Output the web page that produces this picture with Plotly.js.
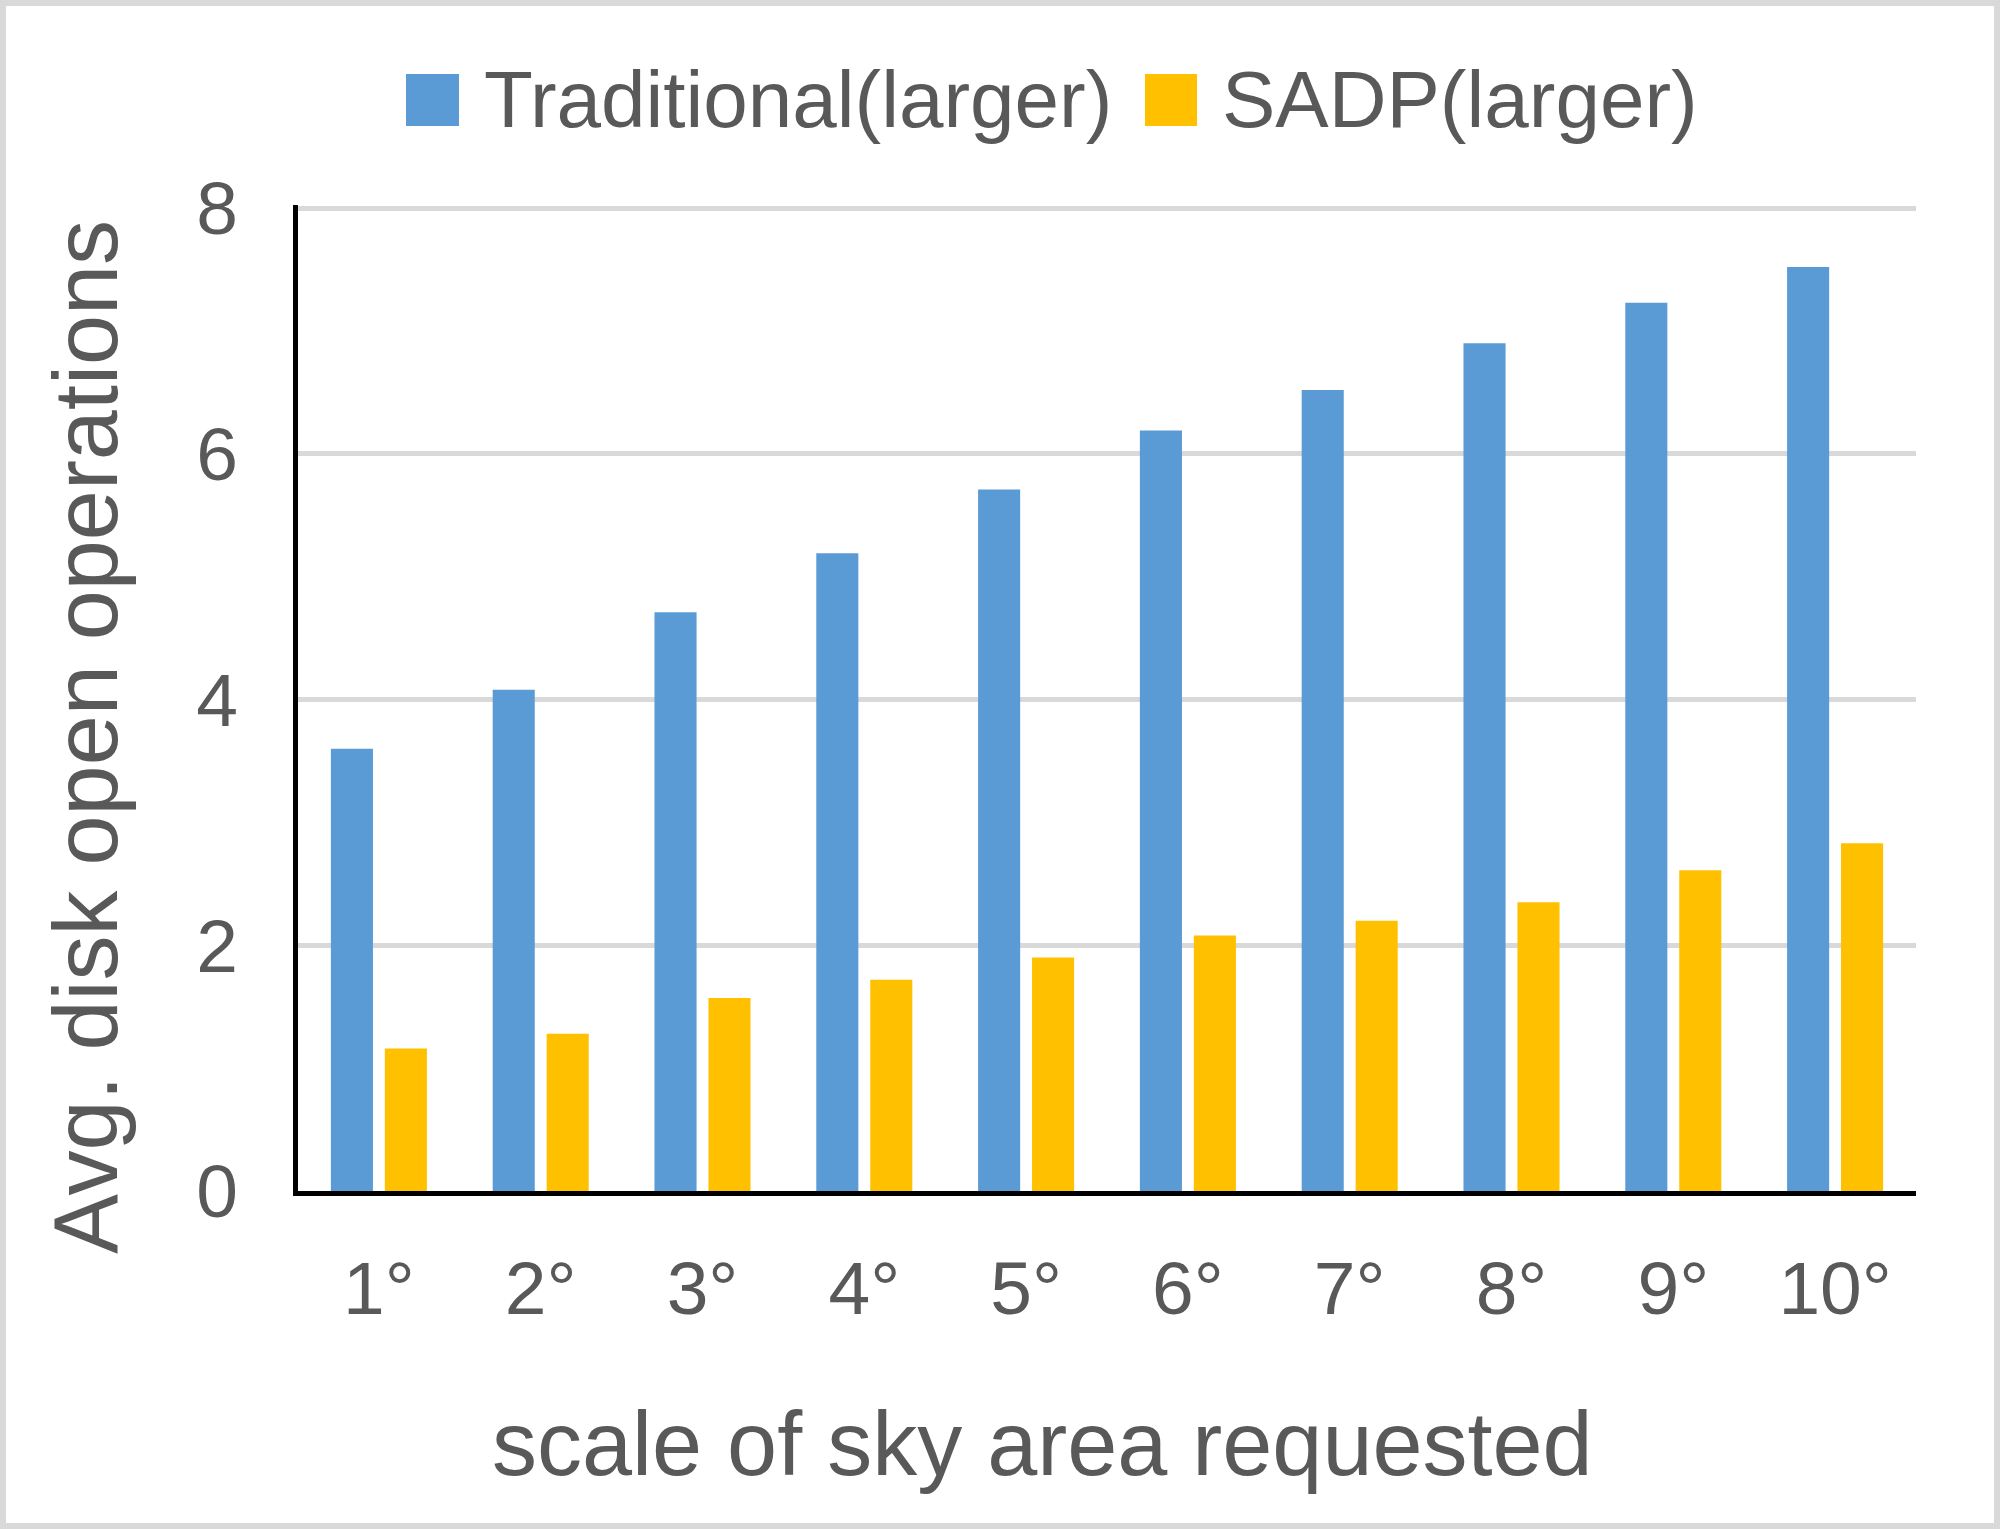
<!DOCTYPE html>
<html>
<head>
<meta charset="utf-8">
<script src="https://cdn.plot.ly/plotly-3.0.1.min.js"></script>
<style>
  body { margin: 0; background: #fff; }
  #wrap { position: relative; width: 2000px; height: 1529px; }
  #chart { width: 2000px; height: 1529px; }
  #frame { position: absolute; left: 0; top: 0; width: 2000px; height: 1529px;
           box-sizing: border-box; border: 6px solid #d9d9d9; pointer-events: none; }
</style>
</head>
<body>
<div id="wrap">
  <div id="chart"></div>
  <div id="frame"></div>
</div>
<script>
// data
var scales = ["1°", "2°", "3°", "4°", "5°", "6°", "7°", "8°", "9°", "10°"];
var traditional = [3.60, 4.08, 4.71, 5.19, 5.71, 6.19, 6.52, 6.90, 7.23, 7.52];
var sadp = [1.16, 1.28, 1.57, 1.72, 1.90, 2.08, 2.20, 2.35, 2.61, 2.83];
var seriesNames = ["Traditional(larger)", "SADP(larger)"];
var yTicks = [0, 2, 4, 6, 8];

var blue = "#5B9BD5";
var gold = "#FFC000";
var grey = "#595959";
var font = "Liberation Sans, Arial, Helvetica, sans-serif";

var W = 2000, H = 1529;
var m = { l: 298, r: 84, t: 205, b: 338 };

// pixel -> paper helpers for the legend and titles
function px(x) { return (x - m.l) / (W - m.l - m.r); }
function py(y) { return (H - m.b - y) / (H - m.t - m.b); }

var data = [
    {
        x: scales,
        y: traditional,
        name: seriesNames[0],
        type: 'bar',
        marker: { color: blue },
        hoverinfo: 'y'
    },
    {
        x: scales,
        y: sadp,
        name: seriesNames[1],
        type: 'bar',
        marker: { color: gold },
        hoverinfo: 'y'
    }
];

// hand-made legend so the swatches can be as large as in the original
var shapes = [
    { type: 'rect', xref: 'paper', yref: 'paper', x0: px(406), x1: px(459), y0: py(126), y1: py(74),
      fillcolor: blue, line: { width: 0 } },
    { type: 'rect', xref: 'paper', yref: 'paper', x0: px(1145), x1: px(1197), y0: py(126), y1: py(74),
      fillcolor: gold, line: { width: 0 } }
];

var annotations = [
    { text: seriesNames[0], xref: 'paper', yref: 'paper', x: px(482), y: py(100),
      xanchor: 'left', yanchor: 'middle', showarrow: false,
      font: { family: font, size: 80, color: grey } },
    { text: seriesNames[1], xref: 'paper', yref: 'paper', x: px(1220), y: py(100),
      xanchor: 'left', yanchor: 'middle', showarrow: false,
      font: { family: font, size: 80, color: grey } },
    { text: "scale of sky area requested", xref: 'paper', yref: 'paper', x: px(1042), y: py(1444),
      xanchor: 'center', yanchor: 'middle', showarrow: false,
      font: { family: font, size: 90, color: grey } },
    { text: "Avg. disk open operations", xref: 'paper', yref: 'paper', x: px(86), y: py(737),
      xanchor: 'center', yanchor: 'middle', textangle: -90, showarrow: false,
      font: { family: font, size: 90, color: grey } }
];

var layout = {
    width: W,
    height: H,
    margin: m,
    paper_bgcolor: '#ffffff',
    plot_bgcolor: '#ffffff',
    showlegend: false,
    barmode: 'group',
    bargap: 0.333,
    bargroupgap: 0.22,
    font: { family: font, color: grey },
    xaxis: {
        type: 'category',
        showline: true,
        linecolor: '#000000',
        linewidth: 5,
        showgrid: false,
        ticks: '',
        ticklabelstandoff: 28,
        tickfont: { family: font, size: 75, color: grey },
        zeroline: false
    },
    yaxis: {
        range: [0, 8.025],
        tickvals: yTicks,
        showline: true,
        linecolor: '#000000',
        linewidth: 5,
        showgrid: true,
        gridcolor: '#d9d9d9',
        gridwidth: 5,
        zeroline: false,
        ticks: '',
        ticklabelstandoff: 40,
        tickfont: { family: font, size: 75, color: grey }
    },
    shapes: shapes,
    annotations: annotations
};

Plotly.newPlot(document.getElementById('chart'), data, layout, { displayModeBar: false, staticPlot: true });
</script>
</body>
</html>
